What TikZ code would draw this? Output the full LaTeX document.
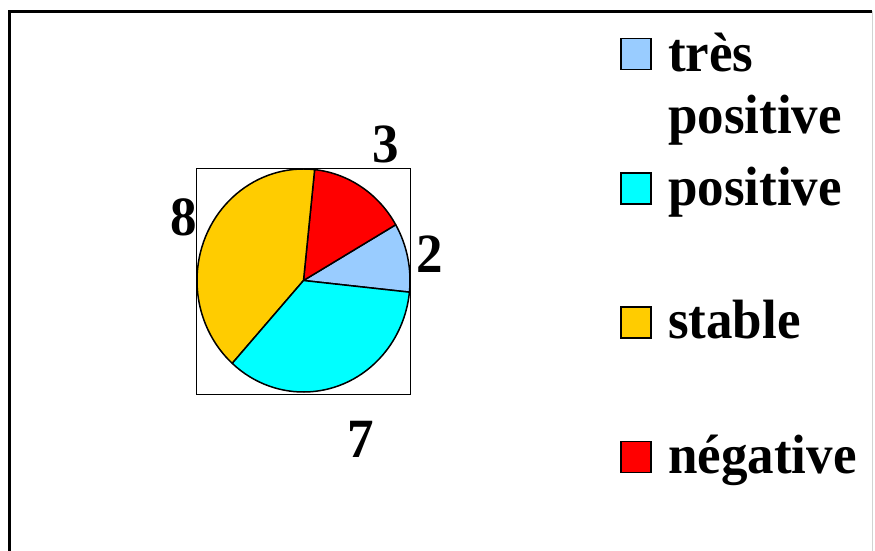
\documentclass[tikz,border=0pt]{standalone}
\usepackage{fontspec}
\setmainfont{Liberation Serif}
\usetikzlibrary{positioning}
\definecolor{TresPos}{HTML}{99CCFF}
\definecolor{Pos}{HTML}{00FFFF}
\definecolor{Stab}{HTML}{FFCC00}
\definecolor{Neg}{HTML}{FF0000}
% the chart is drawn slightly taller than wide
\newcommand{\tall}[1]{\scalebox{1}[1.045]{#1}}
\tikzset{
  bigfont/.style={font=\fontsize{53}{41}\selectfont\bfseries},
  val/.style={bigfont, inner sep=0pt, anchor=base},
  legtext/.style={bigfont, inner sep=0pt, anchor=base west},
  legbox/.style={draw, line width=1.5pt, minimum width=30pt, minimum height=31pt, inner sep=0pt}
}

\begin{document}
\begin{tikzpicture}[x=1pt,y=1pt]
\useasboundingbox (0,0) rectangle (875,-551);
% outer frame
\draw[line width=2.6pt] (9.3,-560) -- (9.3,-11.3) -- (872,-11.3);
\draw[gray!35,line width=1pt] (872,-11.3) -- (872,-560);
% pie
\draw[line width=1.2pt] (196.5,-168.5) rectangle (410.5,-394.5);
\coordinate (c) at (303.5,-280.5);
\foreach \a/\b/\col in {-6/30/TresPos, 30/84/Neg, 84/228/Stab, 228/354/Pos}
  \filldraw[fill=\col, line width=1.5pt, line join=round] (c) -- +(\a:106.5 and 111.5) arc[start angle=\a, end angle=\b, x radius=106.5, y radius=111.5] -- cycle;
\node[val] (n3) at (386,-162) {\tall{3}};
\node[val] (n2) at (430,-272) {\tall{2}};
\node[val] (n8) at (184,-235) {\tall{8}};
\node[val] (n7) at (361,-457) {\tall{7}};
% legend
\node[legbox, fill=TresPos] (b1) at (636,-54) {};
\node[legtext] (t1) at (668,-71) {\tall{très}};
\node[legtext] (t1b) at (668,-133) {\tall{positive}};
\node[legbox, fill=Pos] (b2) at (636,-188.5) {};
\node[legtext] (t2) at (668,-205) {\tall{positive}};
\node[legbox, fill=Stab] (b3) at (636,-322.5) {};
\node[legtext] (t3) at (668,-338) {\tall{stable}};
\node[legbox, fill=Neg] (b4) at (636,-457) {};
\node[legtext] (t4) at (668,-473) {\tall{négative}};
\end{tikzpicture}
\end{document}
